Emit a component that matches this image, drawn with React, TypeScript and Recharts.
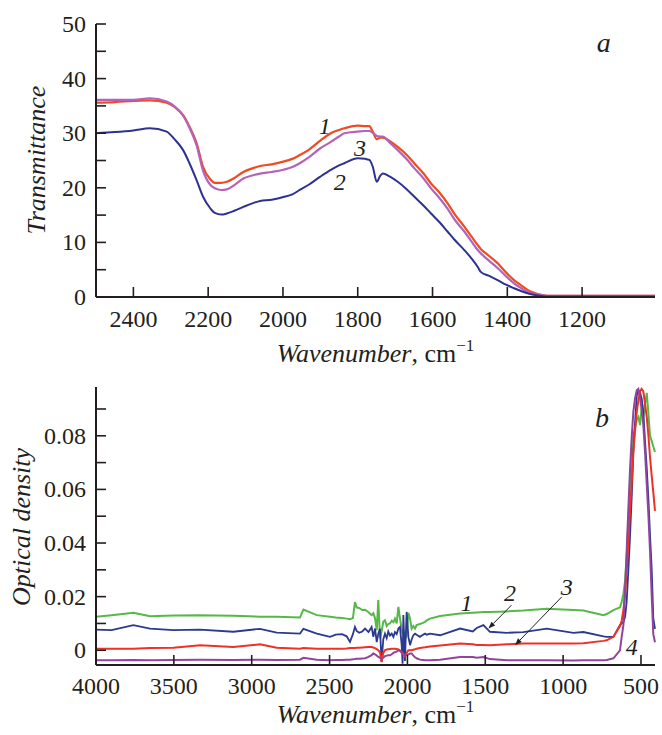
import React from "react";
import { Label, Line, LineChart, ReferenceDot, ReferenceLine, XAxis, YAxis } from "recharts";

const FONT = "'Liberation Serif', 'Times New Roman', serif";
const INK = "#231f20";

// panel a: transmittance
const wnA = [
  2500, 2450, 2400, 2356, 2311, 2290, 2267, 2250, 2231, 2214, 2195, 2182, 2165, 2150, 2130, 2106, 2080, 2061, 2030,
  1999, 1975, 1955, 1930, 1901, 1872, 1850, 1836, 1800, 1780, 1769, 1760, 1749, 1740, 1733, 1715, 1693, 1670, 1649,
  1625, 1604, 1580, 1560, 1540, 1515, 1495, 1479, 1471, 1450, 1426, 1405, 1382, 1360, 1346, 1330, 1310, 1290, 1270,
  1200, 1100, 1005,
];
const trans1 = [
  35.6, 35.7, 35.9, 36.0, 35.6, 34.8, 33.3, 31.2, 28.2, 23.9, 21.6, 20.9, 20.9, 21.1, 21.8, 22.9, 23.6, 24.0, 24.3,
  24.8, 25.3, 26.0, 27.0, 28.6, 30.0, 30.6, 30.9, 31.4, 31.3, 31.3, 30.3, 28.9, 29.2, 29.2, 28.6, 27.5, 26.1, 24.5,
  22.7, 20.8, 19.0, 17.2, 15.1, 12.9, 11.0, 9.5, 8.8, 7.6, 6.2, 4.6, 3.1, 2.0, 1.3, 0.8, 0.4, 0.2, 0.2,
  0.2, 0.2, 0.2,
];
const trans2 = [
  30.0, 30.2, 30.5, 30.9, 30.3, 28.9, 26.9, 24.5, 21.4, 18.4, 16.3, 15.4, 15.1, 15.3, 15.8, 16.5, 17.2, 17.6, 17.8,
  18.3, 18.8, 19.6, 20.6, 22.0, 23.3, 24.1, 24.5, 25.4, 25.3, 25.1, 23.9, 21.1, 22.2, 22.6, 22.1, 21.1, 19.8, 18.4,
  16.8, 15.3, 13.6, 12.0, 10.4, 8.6, 7.0, 5.5, 4.6, 3.9, 3.1, 2.3, 1.6, 1.0, 0.7, 0.4, 0.2, 0.1, 0.1,
  0.1, 0.1, 0.1,
];
const trans3 = [
  36.1, 36.1, 36.1, 36.4, 35.8, 34.9, 33.2, 31.0, 27.8, 23.2, 20.6, 19.9, 19.6, 19.7, 20.5, 21.7, 22.3, 22.6, 22.9,
  23.3, 23.8, 24.5, 25.6, 27.2, 28.4, 29.4, 30.0, 30.3, 30.4, 30.4, 30.1, 29.5, 29.4, 29.4, 28.3, 26.9, 25.3, 23.6,
  21.8, 19.9, 18.0, 16.2, 14.1, 12.0, 10.1, 8.6, 8.0, 6.7, 5.3, 3.9, 2.5, 1.5, 0.9, 0.6, 0.4, 0.2, 0.2,
  0.2, 0.2, 0.2,
];
const ticksAx = [2400, 2200, 2000, 1800, 1600, 1400, 1200];
const ticksAy = [0, 5, 10, 15, 20, 25, 30, 35, 40, 45, 50];

// panel b: optical density
const wnB = [
  4000, 3900, 3760, 3653, 3503, 3332, 3118, 2947, 2839, 2690, 2668, 2582,
  2497, 2460, 2420, 2390, 2369, 2350, 2337, 2326, 2310, 2290, 2272, 2250, 2230, 2219, 2208, 2197, 2187, 2176, 2166,
  2155, 2144, 2133, 2123, 2112, 2101, 2090, 2080, 2069, 2058, 2048, 2037, 2031, 2026, 2016, 2005, 1994, 1983, 1973,
  1962, 1951, 1941, 1920, 1900, 1887, 1876, 1855,
  1790, 1662, 1580, 1555, 1512, 1470, 1362, 1256, 1105, 934, 870, 741, 720, 677, 635, 624, 613, 602, 592,
  581, 570, 559, 549, 538, 527, 517, 506, 496, 485, 474, 463, 452, 442, 431, 421, 410,
];
const od1 = [
  0.0125, 0.0131, 0.014, 0.0127, 0.013, 0.0131, 0.0129, 0.0125, 0.0125, 0.0122, 0.0152, 0.0131,
  0.0125, 0.0122, 0.012, 0.0118, 0.0116, 0.012, 0.018, 0.016, 0.0158, 0.015, 0.0151, 0.0142, 0.0131, 0.0138, 0.012,
  0.0075, 0.0187, 0.0044, 0.007, 0.0106, 0.0112, 0.009, 0.0098, 0.01, 0.011, 0.0105, 0.0118, 0.01, 0.0162, 0.012,
  0.0081, 0.006, 0.0075, 0.004, 0.0056, 0.014, 0.0118, 0.008, 0.009, 0.0081, 0.0094, 0.0098, 0.0102, 0.0106, 0.0112,
  0.0118,
  0.0128, 0.0137, 0.014, 0.0141, 0.0143, 0.0143, 0.0145, 0.0148, 0.0155, 0.015, 0.0148, 0.0131, 0.0135, 0.015, 0.016,
  0.018, 0.021, 0.026, 0.035, 0.048, 0.062, 0.072, 0.08, 0.083, 0.086, 0.087, 0.084, 0.0905, 0.087, 0.092, 0.096,
  0.088, 0.08, 0.078, 0.076, 0.074,
];
const od2 = [
  0.0077, 0.0075, 0.0094, 0.0081, 0.0075, 0.0077, 0.0069, 0.008, 0.0066, 0.0062, 0.008, 0.0062,
  0.005, 0.0058, 0.006, 0.0052, 0.0031, 0.006, 0.0087, 0.0072, 0.0065, 0.007, 0.0081, 0.0068, 0.0087, 0.005, 0.0081,
  0.003, 0.0062, 0.008, -0.0044, 0.004, 0.0062, 0.0045, 0.007, 0.0055, 0.0062, 0.005, 0.0068, 0.006, 0.0081, 0.0087,
  0.002, -0.005, 0.0131, -0.004, 0.0143, 0.005, 0.0019, 0.004, 0.0056, 0.0062, 0.0058, 0.005, 0.0058, 0.0062, 0.0058,
  0.0062,
  0.0056, 0.0081, 0.007, 0.0083, 0.0094, 0.0069, 0.0065, 0.0068, 0.0081, 0.0065, 0.0068, 0.0052, 0.005, 0.005, 0.0094,
  0.01, 0.0105, 0.0125, 0.018, 0.03, 0.043, 0.058, 0.074, 0.085, 0.095, 0.097, 0.096, 0.094, 0.089, 0.078, 0.068,
  0.056, 0.043, 0.03, 0.012, 0.008,
];
const od3 = [
  0.0006, 0.0006, 0.0006, 0.0008, 0.0009, 0.0019, 0.0012, 0.0022, 0.0009, 0.0006, 0.0008, 0.0006,
  0.0006, 0.0006, 0.0006, 0.0007, 0.0008, 0.0008, 0.0008, 0.0009, 0.0009, 0.001, 0.0011, 0.0012, 0.0012, 0.001,
  0.0008, 0.0004, 0.0, -0.0008, -0.0044, -0.001, 0.0, 0.0003, 0.0004, 0.0005, 0.0006, 0.0006, 0.0006, 0.0005, 0.0003,
  0.0, -0.0006, -0.0012, -0.0015, -0.0022, -0.001, 0.0, 0.0, 0.0, 0.0002, 0.0004, 0.0006, 0.0008, 0.001, 0.0011,
  0.0012, 0.0014,
  0.0018, 0.0025, 0.0022, 0.002, 0.002, 0.0019, 0.0022, 0.0025, 0.0025, 0.0025, 0.0026, 0.0035, 0.0037, 0.005, 0.009,
  0.011, 0.015, 0.021, 0.029, 0.04, 0.052, 0.063, 0.074, 0.082, 0.089, 0.093, 0.0966, 0.0975, 0.0966, 0.092, 0.087,
  0.08, 0.072, 0.065, 0.059, 0.052,
];
const od4 = [
  -0.0037, -0.0037, -0.0036, -0.0037, -0.0036, -0.0035, -0.0036, -0.0035, -0.0036, -0.0035, -0.0028, -0.0035,
  -0.0037, -0.0036, -0.0036, -0.0035, -0.0035, -0.0034, -0.0033, -0.0032, -0.0032, -0.0031, -0.003, -0.0025, -0.0018,
  -0.0012, -0.0015, -0.002, -0.0025, -0.0028, -0.0031, -0.0028, -0.0022, -0.002, -0.0019, -0.0019, -0.0015, -0.001,
  -0.0007, -0.0005, 0.0, -0.0002, -0.001, -0.0014, -0.0016, -0.0019, -0.0019, -0.0015, -0.0012, -0.0012, -0.002,
  -0.0026, -0.003, -0.0035, -0.0036, -0.0037, -0.0037, -0.0037,
  -0.0035, -0.0025, -0.0025, -0.0028, -0.0025, -0.0033, -0.0037, -0.0037, -0.0037, -0.0038, -0.0037, -0.0037, -0.0036,
  -0.003, 0.0, 0.005, 0.0094, 0.023, 0.037, 0.053, 0.068, 0.08, 0.089, 0.094, 0.097, 0.0975, 0.094, 0.09, 0.084, 0.074,
  0.062, 0.05, 0.037, 0.02, 0.006, 0.003,
];
const ticksBx = [4000, 3500, 3000, 2500, 2000, 1500, 1000, 500];
const ticksBy = [0, 0.01, 0.02, 0.03, 0.04, 0.05, 0.06, 0.07, 0.08, 0.09];

const dataA = wnA.map((wn, i) => ({ wn, c1: trans1[i], c2: trans2[i], c3: trans3[i] }));
const dataB = wnB.map((wn, i) => ({ wn, c1: od1[i], c2: od2[i], c3: od3[i], c4: od4[i] }));

const PLOT_LEFT = 96;

const yTick = (isMajor: (v: number) => boolean, fmt: (v: number) => string) => (props: any) => {
  const { y, payload } = props;
  const v = payload.value;
  return (
    <g>
      <line x1={PLOT_LEFT} x2={PLOT_LEFT + 10} y1={y} y2={y} stroke={INK} strokeWidth={1.6} />
      {isMajor(v) && (
        <text x={PLOT_LEFT - 10} y={y} textAnchor="end" dominantBaseline="central" fontFamily={FONT} fontSize={24} fill={INK}>
          {fmt(v)}
        </text>
      )}
    </g>
  );
};

const xTick = (bottom: number, labelY: number) => (props: any) => {
  const { x, payload } = props;
  return (
    <g>
      <line x1={x} x2={x} y1={bottom} y2={bottom - 10} stroke={INK} strokeWidth={1.6} />
      <text x={x} y={labelY} textAnchor="middle" fontFamily={FONT} fontSize={24} fill={INK}>
        {payload.value}
      </text>
    </g>
  );
};

const tag = (t: string, size = 24) => (p: any) => (
  <text x={p.cx} y={p.cy} textAnchor="middle" dominantBaseline="central" fontFamily={FONT} fontStyle="italic" fontSize={size} fill={INK}>
    {t}
  </text>
);

const arrow = (p: any) => {
  const { x1, y1, x2, y2 } = p;
  const a = Math.atan2(y2 - y1, x2 - x1);
  const L = 7;
  const W = 2.6;
  const bx = x2 - L * Math.cos(a);
  const by = y2 - L * Math.sin(a);
  const pts = `${x2},${y2} ${bx - W * Math.sin(a)},${by + W * Math.cos(a)} ${bx + W * Math.sin(a)},${by - W * Math.cos(a)}`;
  return (
    <g>
      <line x1={x1} y1={y1} x2={bx} y2={by} stroke={INK} strokeWidth={1} />
      <polygon points={pts} fill={INK} />
    </g>
  );
};

const xTitle = (baseline: number) => () => (
  <text x={375.5} y={baseline} textAnchor="middle" fontFamily={FONT} fontSize={26} fill={INK}>
    <tspan fontStyle="italic">Wavenumber</tspan>
    <tspan>, cm</tspan>
    <tspan dy={-11} fontSize={17}>−1</tspan>
  </text>
);

const yTitle = (text: string, x: number, y: number) => () => (
  <text x={x} y={y} transform={`rotate(-90, ${x}, ${y})`} textAnchor="middle" fontFamily={FONT} fontStyle="italic" fontSize={26} fill={INK}>
    {text}
  </text>
);

const frame = { stroke: INK, strokeWidth: 2 };

export default function App() {
  return (
    <div style={{ position: "absolute", left: 0, top: 0, width: 662, height: 735, background: "#fff" }}>
      <LineChart width={662} height={370} data={dataA} margin={{ top: 24, right: 7, bottom: 0, left: 0 }}>
        <XAxis
          xAxisId="x"
          dataKey="wn"
          type="number"
          domain={[1005, 2500]}
          reversed
          ticks={ticksAx}
          interval={0}
          height={73}
          tickLine={false}
          axisLine={frame}
          tick={xTick(297, 327)}
        >
          <Label content={xTitle(362)} />
        </XAxis>
        <XAxis xAxisId="t" orientation="top" type="number" domain={[1005, 2500]} reversed height={0} tick={false} tickLine={false} axisLine={frame} />
        <YAxis
          yAxisId="y"
          type="number"
          domain={[0, 50]}
          ticks={ticksAy}
          interval={0}
          width={96}
          tickLine={false}
          axisLine={frame}
          tick={yTick((v) => v % 10 === 0, (v) => String(v))}
        >
          <Label content={yTitle("Transmittance", 45, 160)} />
        </YAxis>
        <YAxis yAxisId="r" orientation="right" type="number" domain={[0, 50]} width={0} tick={false} tickLine={false} axisLine={frame} />
        <Line xAxisId="x" yAxisId="y" dataKey="c1" type="monotone" stroke="#f04a23" strokeWidth={2.2} dot={false} isAnimationActive={false} />
        <Line xAxisId="x" yAxisId="y" dataKey="c3" type="monotone" stroke="#b463b8" strokeWidth={2.2} dot={false} isAnimationActive={false} />
        <Line xAxisId="x" yAxisId="y" dataKey="c2" type="monotone" stroke="#2e3192" strokeWidth={2} dot={false} isAnimationActive={false} />
        <ReferenceDot xAxisId="x" yAxisId="y" x={1888} y={31.3} r={0} shape={tag("1")} />
        <ReferenceDot xAxisId="x" yAxisId="y" x={1794} y={27.3} r={0} shape={tag("3")} />
        <ReferenceDot xAxisId="x" yAxisId="y" x={1848} y={21.1} r={0} shape={tag("2")} />
        <ReferenceDot xAxisId="x" yAxisId="y" x={1142} y={46.7} r={0} shape={tag("a", 28)} />
      </LineChart>

      <LineChart width={662} height={365} data={dataB} margin={{ top: 17, right: 7, bottom: 0, left: 0 }}>
        <XAxis
          xAxisId="x"
          dataKey="wn"
          type="number"
          domain={[410, 4000]}
          reversed
          ticks={ticksBx}
          interval={0}
          height={70}
          tickLine={false}
          axisLine={frame}
          tick={xTick(295, 324)}
        >
          <Label content={xTitle(353)} />
        </XAxis>
        <XAxis xAxisId="t" orientation="top" type="number" domain={[410, 4000]} reversed height={0} tick={false} tickLine={false} axisLine={frame} />
        <YAxis
          yAxisId="y"
          type="number"
          domain={[-0.0055, 0.0982]}
          allowDataOverflow
          ticks={ticksBy}
          interval={0}
          width={96}
          tickLine={false}
          axisLine={frame}
          tick={yTick((v) => Math.round(v * 100) % 2 === 0, (v) => (v === 0 ? "0" : v.toFixed(2)))}
        >
          <Label content={yTitle("Optical density", 30, 157)} />
        </YAxis>
        <YAxis yAxisId="r" orientation="right" type="number" domain={[-0.0055, 0.0982]} width={0} tick={false} tickLine={false} axisLine={frame} />
        <Line xAxisId="x" yAxisId="y" dataKey="c1" type="linear" stroke="#55b847" strokeWidth={2} dot={false} isAnimationActive={false} />
        <Line xAxisId="x" yAxisId="y" dataKey="c2" type="linear" stroke="#2b3990" strokeWidth={1.8} dot={false} isAnimationActive={false} />
        <Line xAxisId="x" yAxisId="y" dataKey="c3" type="linear" stroke="#ee3124" strokeWidth={2} dot={false} isAnimationActive={false} />
        <Line xAxisId="x" yAxisId="y" dataKey="c4" type="linear" stroke="#92449c" strokeWidth={2} dot={false} isAnimationActive={false} />
        <ReferenceDot xAxisId="x" yAxisId="y" x={1620} y={0.0176} r={0} shape={tag("1")} />
        <ReferenceDot xAxisId="x" yAxisId="y" x={1341} y={0.0213} r={0} shape={tag("2")} />
        <ReferenceDot xAxisId="x" yAxisId="y" x={977} y={0.0237} r={0} shape={tag("3")} />
        <ReferenceDot xAxisId="x" yAxisId="y" x={560} y={0.0012} r={0} shape={tag("4")} />
        <ReferenceDot xAxisId="x" yAxisId="y" x={750} y={0.0868} r={0} shape={tag("b", 28)} />
        <ReferenceLine xAxisId="x" yAxisId="y" segment={[{ x: 1332, y: 0.0168 }, { x: 1480, y: 0.0081 }]} shape={arrow} />
        <ReferenceLine xAxisId="x" yAxisId="y" segment={[{ x: 1009, y: 0.0199 }, { x: 1309, y: 0.0019 }]} shape={arrow} />
      </LineChart>
    </div>
  );
}
